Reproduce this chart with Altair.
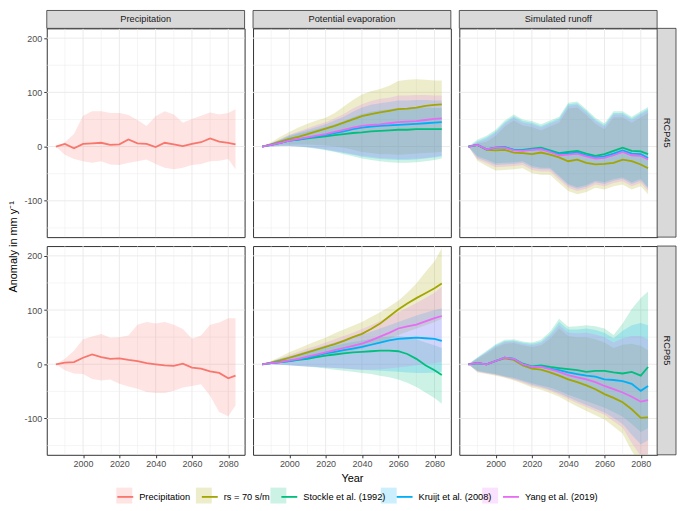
import altair as alt
import pandas as pd

YEARS = [1985, 1990, 1995, 2000, 2005, 2010, 2015, 2020, 2025, 2030, 2035,
         2040, 2045, 2050, 2055, 2060, 2065, 2070, 2075, 2080, 2084]
SERIES = ["Precipitation", "rs = 70 s/m", "Stockle et al. (1992)",
          "Kruijt et al. (2008)", "Yang et al. (2019)"]
CODES = ["a", "b", "c", "d", "e"]
COLORS = ["#F8766D", "#A3A500", "#00BF7D", "#00B0F6", "#E76BF3"]
VARIABLES = ["Precipitation", "Potential evaporation", "Simulated runoff"]
SCENARIOS = ["RCP45", "RCP85"]
MAJOR_X = [2000, 2020, 2040, 2060, 2080]
MINOR_X = [1990, 2010, 2030, 2050, 2070]
MAJOR_Y = [-100, 0, 100, 200]
MINOR_Y = [-150, -50, 50, 150]

# Precipitation
P45_M = [0, 5, -3, 5, 6, 7, 3, 4, 13, 6, 5, -1, 7, 4, 1, 5, 8, 15, 9, 7, 4]
P45_H = [0, 8, 23, 57, 65, 65, 62, 62, 58, 49, 38, 56, 65, 59, 44, 51, 57, 63, 59, 62, 69]
P45_L = [0, -15, -23, -27, -30, -27, -33, -34, -30, -27, -24, -32, -39, -42, -39, -34, -32, -27, -26, -23, -42]
P85_M = [0, 3, 4, 12, 18, 13, 10, 11, 8, 6, 2, 0, -2, -3, 1, -6, -8, -13, -16, -26, -21]
P85_H = [0, 10, 25, 46, 51, 56, 49, 50, 53, 73, 78, 75, 78, 73, 65, 47, 53, 73, 77, 85, 85]
P85_L = [0, -11, -17, -18, -27, -30, -28, -36, -41, -45, -51, -53, -53, -49, -43, -40, -37, -58, -88, -96, -76]

# Potential evaporation RCP45
E45_RS_M = [0, 4, 9, 14, 18, 23, 28, 33, 38, 44, 50, 56, 60, 63, 66, 69, 70, 72, 75, 77, 78]
E45_RS_H = [0, 8, 18, 27, 35, 42, 48, 53, 62, 74, 86, 96, 102, 106, 112, 121, 123, 124, 123, 122, 122]
E45_RS_L = [0, 1, 3, 4, 4, 4, 3, 2, 0, -2, -6, -10, -12, -14, -14, -15, -14, -13, -12, -11, -10]
E45_ST_M = [0, 3, 7, 11, 13, 15, 17, 19, 21, 23, 25, 26, 28, 29, 30, 31, 31, 32, 32, 32, 32]
E45_ST_H = [0, 6, 12, 19, 24, 28, 32, 36, 41, 47, 54, 60, 64, 67, 69, 71, 71, 72, 72, 71, 71]
E45_ST_L = [0, 0, 1, 1, 0, -2, -4, -7, -10, -14, -18, -22, -25, -27, -29, -30, -30, -29, -27, -25, -22]
E45_KR_M = [0, 3, 7, 11, 13, 16, 19, 21, 25, 28, 32, 35, 37, 38, 39, 40, 41, 42, 43, 44, 45]
E45_KR_H = [0, 6, 13, 21, 26, 31, 36, 41, 48, 55, 64, 72, 77, 80, 82, 85, 85, 86, 86, 85, 85]
E45_KR_L = [0, 0, 1, 1, 0, -1, -3, -6, -9, -12, -15, -19, -21, -23, -24, -25, -25, -24, -22, -20, -18]
E45_YA_M = [0, 3, 7, 11, 14, 17, 20, 23, 27, 31, 35, 38, 40, 41, 43, 45, 46, 47, 49, 51, 52]
E45_YA_H = [0, 6, 14, 22, 28, 34, 40, 45, 52, 60, 70, 78, 84, 88, 90, 94, 94, 95, 95, 94, 94]
E45_YA_L = [0, 0, 1, 1, 0, -1, -3, -5, -8, -11, -14, -17, -19, -21, -22, -23, -23, -22, -21, -19, -17]

# Potential evaporation RCP85
E85_RS_M = [0, 3, 7, 12, 17, 22, 27, 32, 37, 43, 50, 56, 65, 75, 88, 101, 112, 122, 131, 140, 149]
E85_RS_H = [0, 6, 14, 22, 29, 36, 43, 49, 57, 64, 71, 78, 87, 96, 106, 117, 132, 149, 170, 190, 214]
E85_RS_L = [0, 1, 2, 4, 6, 9, 12, 15, 18, 21, 25, 29, 34, 40, 47, 54, 60, 66, 72, 78, 84]
E85_ST_M = [0, 2, 4, 6, 8, 10, 13, 16, 18, 20, 22, 23, 24, 25, 25, 24, 19, 10, -2, -11, -20]
E85_ST_H = [0, 5, 10, 14, 18, 22, 26, 30, 34, 38, 41, 44, 47, 50, 51, 52, 50, 46, 40, 35, 30]
E85_ST_L = [0, 0, -1, -2, -3, -4, -6, -8, -10, -12, -14, -16, -18, -21, -24, -28, -34, -42, -52, -62, -73]
E85_KR_M = [0, 2, 4, 6, 9, 12, 16, 20, 23, 26, 29, 32, 36, 40, 44, 47, 48, 49, 48, 47, 43]
E85_KR_H = [0, 5, 10, 15, 20, 25, 30, 35, 40, 45, 50, 55, 60, 66, 72, 78, 84, 90, 95, 100, 103]
E85_KR_L = [0, 0, -1, -2, -3, -4, -5, -6, -7, -8, -9, -10, -11, -12, -13, -14, -15, -16, -16, -15, -14]
E85_YA_M = [0, 2, 4, 7, 10, 14, 18, 22, 26, 30, 34, 38, 44, 51, 58, 66, 70, 73, 79, 85, 89]
E85_YA_H = [0, 5, 11, 17, 23, 29, 34, 40, 46, 52, 58, 65, 72, 80, 88, 96, 104, 113, 122, 132, 143]
E85_YA_L = [0, 0, -1, -2, -3, -4, -5, -6, -7, -8, -9, -10, -10, -9, -8, -6, -4, -2, 0, 2, 4]

# Simulated runoff RCP45
R45_RS_M = [0, 3, -6, -7, -6, -11, -12, -14, -11, -15, -20, -27, -24, -30, -33, -32, -30, -24, -27, -33, -40]
R45_RS_H = [0, 6, 9, 20, 37, 48, 39, 36, 30, 37, 44, 70, 72, 58, 42, 32, 54, 54, 44, 54, 62]
R45_RS_L = [0, -26, -36, -44, -43, -42, -40, -49, -52, -52, -67, -82, -88, -84, -76, -79, -73, -70, -79, -73, -88]
R45_ST_M = [0, 3, -5, -2, -1, -6, -6, -4, -2, -7, -12, -10, -8, -13, -17, -14, -8, -2, -8, -9, -14]
R45_ST_H = [0, 13, 20, 31, 48, 59, 50, 47, 41, 48, 55, 81, 83, 69, 53, 43, 65, 65, 55, 65, 73]
R45_ST_L = [0, -18, -24, -31, -30, -29, -27, -36, -39, -39, -54, -69, -75, -71, -63, -66, -60, -57, -66, -60, -75]
R45_KR_M = [0, 3, -5, -2, -1, -6, -7, -5, -4, -9, -14, -13, -11, -16, -20, -18, -13, -7, -13, -14, -21]
R45_KR_H = [0, 10, 17, 28, 45, 56, 47, 44, 38, 45, 52, 78, 80, 66, 50, 40, 62, 62, 52, 62, 70]
R45_KR_L = [0, -21, -27, -34, -33, -32, -30, -39, -42, -42, -57, -72, -78, -74, -66, -69, -63, -60, -69, -63, -78]
R45_YA_M = [0, 3, -5, -2, -2, -7, -8, -6, -5, -10, -16, -15, -13, -18, -22, -21, -16, -10, -16, -17, -24]
R45_YA_H = [0, 8, 14, 25, 42, 53, 44, 41, 35, 42, 49, 75, 77, 63, 47, 37, 59, 59, 49, 59, 67]
R45_YA_L = [0, -24, -31, -38, -37, -36, -34, -43, -46, -46, -61, -76, -82, -78, -70, -73, -67, -64, -73, -67, -82]

# Simulated runoff RCP85
R85_RS_M = [0, 2, 0, 6, 11, 8, -2, -8, -10, -15, -21, -28, -33, -39, -46, -55, -62, -70, -83, -99, -98]
R85_RS_H = [0, 10, 20, 31, 38, 39, 35, 32, 35, 47, 66, 52, 50, 50, 46, 40, 30, 36, 38, 34, 26]
R85_RS_L = [0, -15, -18, -21, -25, -30, -36, -43, -47, -53, -60, -69, -78, -86, -94, -102, -115, -128, -160, -185, -180]
R85_ST_M = [0, 2, 0, 6, 12, 10, 1, -4, -2, -5, -7, -9, -11, -14, -12, -12, -15, -17, -14, -21, -5]
R85_ST_H = [0, 13, 25, 37, 45, 46, 42, 40, 45, 60, 84, 69, 70, 72, 70, 66, 54, 75, 102, 122, 134]
R85_ST_L = [0, -12, -15, -18, -22, -25, -30, -35, -39, -43, -49, -56, -62, -68, -74, -80, -88, -97, -110, -125, -118]
R85_KR_M = [0, 2, 0, 6, 12, 10, 0, -5, -4, -8, -11, -15, -18, -21, -23, -28, -29, -31, -36, -49, -40]
R85_KR_H = [0, 12, 23, 35, 43, 44, 40, 38, 42, 56, 78, 64, 64, 66, 63, 58, 48, 62, 72, 76, 72]
R85_KR_L = [0, -13, -16, -19, -23, -27, -32, -38, -42, -47, -53, -61, -68, -75, -82, -89, -99, -110, -130, -148, -140]
R85_YA_M = [0, 2, 0, 6, 12, 10, 0, -5, -5, -9, -14, -20, -24, -28, -33, -40, -46, -52, -60, -69, -66]
R85_YA_H = [0, 11, 22, 33, 41, 42, 38, 35, 39, 52, 72, 58, 57, 58, 55, 50, 40, 48, 52, 52, 46]
R85_YA_L = [0, -14, -17, -20, -24, -28, -34, -40, -44, -49, -56, -64, -72, -79, -86, -93, -105, -117, -145, -170, -165]

REG = [
    ("RCP45", "Precipitation", "Precipitation", P45_M, P45_L, P45_H),
    ("RCP85", "Precipitation", "Precipitation", P85_M, P85_L, P85_H),
    ("RCP45", "Potential evaporation", "rs = 70 s/m", E45_RS_M, E45_RS_L, E45_RS_H),
    ("RCP45", "Potential evaporation", "Stockle et al. (1992)", E45_ST_M, E45_ST_L, E45_ST_H),
    ("RCP45", "Potential evaporation", "Kruijt et al. (2008)", E45_KR_M, E45_KR_L, E45_KR_H),
    ("RCP45", "Potential evaporation", "Yang et al. (2019)", E45_YA_M, E45_YA_L, E45_YA_H),
    ("RCP85", "Potential evaporation", "rs = 70 s/m", E85_RS_M, E85_RS_L, E85_RS_H),
    ("RCP85", "Potential evaporation", "Stockle et al. (1992)", E85_ST_M, E85_ST_L, E85_ST_H),
    ("RCP85", "Potential evaporation", "Kruijt et al. (2008)", E85_KR_M, E85_KR_L, E85_KR_H),
    ("RCP85", "Potential evaporation", "Yang et al. (2019)", E85_YA_M, E85_YA_L, E85_YA_H),
    ("RCP45", "Simulated runoff", "rs = 70 s/m", R45_RS_M, R45_RS_L, R45_RS_H),
    ("RCP45", "Simulated runoff", "Stockle et al. (1992)", R45_ST_M, R45_ST_L, R45_ST_H),
    ("RCP45", "Simulated runoff", "Kruijt et al. (2008)", R45_KR_M, R45_KR_L, R45_KR_H),
    ("RCP45", "Simulated runoff", "Yang et al. (2019)", R45_YA_M, R45_YA_L, R45_YA_H),
    ("RCP85", "Simulated runoff", "rs = 70 s/m", R85_RS_M, R85_RS_L, R85_RS_H),
    ("RCP85", "Simulated runoff", "Stockle et al. (1992)", R85_ST_M, R85_ST_L, R85_ST_H),
    ("RCP85", "Simulated runoff", "Kruijt et al. (2008)", R85_KR_M, R85_KR_L, R85_KR_H),
    ("RCP85", "Simulated runoff", "Yang et al. (2019)", R85_YA_M, R85_YA_L, R85_YA_H),
]

rows = []
for scen, var, ser, m, lo, hi in REG:
    for yr, a, b, c in zip(YEARS, m, lo, hi):
        rows.append({"scenario": scen, "variable": var, "series": ser,
                     "code": CODES[SERIES.index(ser)], "year": yr,
                     "mean": a, "lo": b, "hi": c})
df = pd.DataFrame(rows)

W, H, STRIP = 199, 210, 18
FONT = "Liberation Sans"
xs = alt.Scale(domain=[1980, 2089], nice=False, zero=False)
ys = alt.Scale(domain=[-167, 218], nice=False, zero=False)

LX, LY = 70, 462
label_expr = "[" + ",".join("'" + s + "'" for s in SERIES) + "][indexof([" + \
    ",".join("'" + c + "'" for c in CODES) + "], datum.label)]"
stroke_legend = alt.Legend(orient="none", legendX=LX, legendY=LY, direction="horizontal",
                           title=None, symbolType="stroke", symbolSize=256,
                           symbolStrokeWidth=1.8, labelFontSize=9.3, labelColor="#000000",
                           labelFont=FONT, columnPadding=7, labelOffset=5)
fill_legend = alt.Legend(orient="none", legendX=LX, legendY=LY, direction="horizontal",
                         title=None, symbolType="square", symbolSize=256, symbolOpacity=0.2,
                         symbolStrokeWidth=0, labelFontSize=9.3, labelOpacity=0,
                         labelFont=FONT, labelExpr=label_expr, columnPadding=7, labelOffset=5)


def xenc(field, row, col):
    if row == 0:
        return alt.X(field, type="quantitative", scale=xs, axis=None)
    ax = dict(values=MAJOR_X, format="d", grid=False, domain=False, tickColor="#333333",
              tickSize=3, tickWidth=1, labelFontSize=9, labelColor="#4D4D4D",
              labelPadding=2, labelFont=FONT)
    if col == 1:
        ax.update(title="Year", titleFontSize=11, titleColor="#000000",
                  titleFontWeight="normal", titlePadding=4, titleFont=FONT)
    else:
        ax.update(title=None)
    return alt.X(field, type="quantitative", scale=xs, axis=alt.Axis(**ax))


def yenc(field, col):
    if col != 0:
        return alt.Y(field, type="quantitative", scale=ys, axis=None)
    return alt.Y(field, type="quantitative", scale=ys,
                 axis=alt.Axis(values=MAJOR_Y, grid=False, domain=False, tickColor="#333333",
                               tickSize=3, tickWidth=1, labelFontSize=9, labelColor="#4D4D4D",
                               labelPadding=2, labelFont=FONT, title=None,
                               labelExpr="datum.value + ''"))


def panel(row, col):
    scen, var = SCENARIOS[row], VARIABLES[col]
    sub = df[(df.scenario == scen) & (df.variable == var)]
    layers = []
    layers.append(alt.Chart(pd.DataFrame({"x": MINOR_X})).mark_rule(color="#EBEBEB", strokeWidth=0.5)
                  .encode(x=xenc("x", row, col)))
    layers.append(alt.Chart(pd.DataFrame({"y": MINOR_Y})).mark_rule(color="#EBEBEB", strokeWidth=0.5)
                  .encode(y=yenc("y", col)))
    layers.append(alt.Chart(pd.DataFrame({"x": MAJOR_X})).mark_rule(color="#EBEBEB", strokeWidth=1)
                  .encode(x=xenc("x", row, col)))
    layers.append(alt.Chart(pd.DataFrame({"y": MAJOR_Y})).mark_rule(color="#EBEBEB", strokeWidth=1)
                  .encode(y=yenc("y", col)))
    base = alt.Chart(sub)
    layers.append(base.mark_area(opacity=0.2, clip=True).encode(
        x=xenc("year", row, col), y=yenc("lo", col), y2="hi",
        fill=alt.Fill("code:N", scale=alt.Scale(domain=CODES, range=COLORS), legend=fill_legend)))
    layers.append(base.mark_line(strokeWidth=1.8, clip=True).encode(
        x=xenc("year", row, col), y=yenc("mean", col),
        stroke=alt.Stroke("series:N", scale=alt.Scale(domain=SERIES, range=COLORS),
                          legend=stroke_legend)))
    if row == 0:
        sd = alt.Chart(pd.DataFrame({"label": [var]}))
        layers.append(sd.mark_rect(fill="#D9D9D9", stroke="#333333", strokeWidth=0.8).encode(
            x=alt.value(0), x2=alt.value(W), y=alt.value(-STRIP), y2=alt.value(0)))
        layers.append(sd.mark_text(fontSize=9.3, color="#1A1A1A", baseline="middle", font=FONT).encode(
            x=alt.value(W / 2), y=alt.value(-STRIP / 2), text="label:N"))
    if col == 2:
        rd = alt.Chart(pd.DataFrame({"label": [scen]}))
        layers.append(rd.mark_rect(fill="#D9D9D9", stroke="#333333", strokeWidth=0.8).encode(
            x=alt.value(W), x2=alt.value(W + 19), y=alt.value(0), y2=alt.value(H)))
        layers.append(rd.mark_text(fontSize=9.3, color="#1A1A1A", baseline="middle", angle=90,
                                   font=FONT).encode(
            x=alt.value(W + 9.5), y=alt.value(H / 2), text="label:N"))
    return alt.layer(*layers).properties(width=W, height=H)


row1 = alt.hconcat(panel(0, 0), panel(0, 1), panel(0, 2), spacing=6.5)
row2 = alt.hconcat(panel(1, 0), panel(1, 1), panel(1, 2), spacing=6.5)
inner = alt.vconcat(row1, row2, spacing=7).properties(
    title=alt.TitleParams(text="Anomaly in mm y\u207b\u00b9", orient="left", anchor="middle",
                          fontSize=11, fontWeight="normal", color="#000000", offset=4,
                          font=FONT))
chart = alt.vconcat(inner).properties(
    padding={"left": 0, "top": 0, "right": 0, "bottom": 0}
).configure(font=FONT).configure_view(stroke="#333333", strokeWidth=1)

chart.save("out.html", embed_options={"renderer": "svg", "actions": False})
